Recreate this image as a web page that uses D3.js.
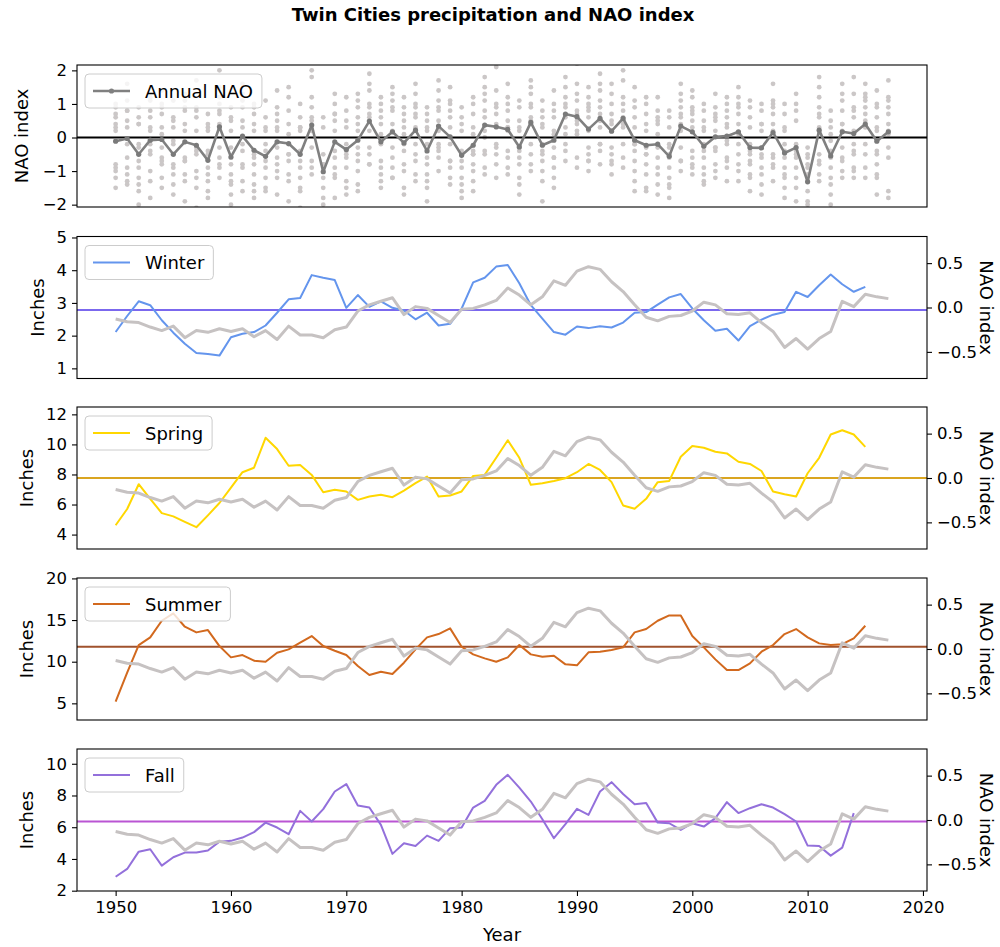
<!DOCTYPE html>
<html><head><meta charset="utf-8">
<script src="https://cdn.jsdelivr.net/npm/d3@7"></script>
<style>
body{margin:0;background:#fff}
text{font-family:"DejaVu Sans",sans-serif;fill:#000}
</style>
</head><body>
<svg id="chart" width="1000" height="947"></svg>
<script>
// ---- data ----
const years = d3.range(1950, 2018);          // NAO years
const seasonYears = d3.range(1950, 2016);    // precipitation years (fall ends 2014)

const annualNAO = [-0.11,-0.03,-0.50,-0.08,-0.06,-0.50,-0.13,-0.23,-0.68,0.32,
 -0.58,0.04,-0.38,-0.56,-0.13,-0.18,-0.50,0.37,-1.02,-0.13,
 -0.36,-0.08,0.49,-0.13,0.17,-0.16,0.22,-0.40,0.34,0.02,
 -0.53,-0.23,0.37,0.32,0.24,-0.28,0.45,-0.23,-0.08,0.70,
 0.62,0.25,0.57,0.19,0.57,-0.08,-0.23,-0.20,-0.56,0.34,
 0.17,-0.26,0.02,0.04,0.17,-0.30,-0.31,0.15,-0.46,-0.30,
 -1.32,0.22,-0.55,0.17,0.12,0.40,-0.11,0.17];

// monthly NAO index, Jan..Dec, one row per year
const monthlyNAO = [
 "0.6 -1.5 -1.0 0.3 -0.9 0.9 0.4 -1.2 1.0 0.2 -0.8 0.7",
 "-1.3 0.8 -0.6 1.6 -0.2 -1.1 0.5 0.3 -0.9 1.1 -1.4 0.8",
 "-1.4 -0.9 -2.0 0.4 -0.7 0.6 -1.6 -0.3 0.9 -1.2 -0.2 0.4",
 "0.8 -1.3 1.2 -0.5 0.2 -1.8 0.6 -0.4 1.1 -1.0 0.3 -0.2",
 "1.4 -0.8 0.3 -1.5 0.7 -0.3 1.0 -1.2 0.1 -0.6 0.9 -0.7",
 "-2.3 -1.1 0.5 -0.8 1.1 -1.4 -0.2 0.6 -1.7 0.3 -0.9 -0.1",
 "0.4 -1.9 1.3 -0.6 0.8 -1.1 0.2 0.9 -0.7 -1.3 1.1 -0.7",
 "1.7 -1.2 -2.1 0.6 -0.4 0.9 -1.0 0.2 -1.5 0.8 -0.3 -0.5",
 "-1.6 -2.2 -0.9 0.3 -1.3 0.7 -0.5 -1.1 0.4 -1.8 0.2 -0.4",
 "1.2 -0.6 2.0 0.4 -0.9 1.5 0.7 -0.3 1.0 -1.2 0.8 -0.8",
 "-1.4 -0.8 -2.0 0.6 -1.1 -0.3 0.9 -1.7 0.2 -0.6 -1.3 0.5",
 "0.9 -1.3 1.6 -0.4 0.3 -0.9 1.1 -1.6 0.5 -0.2 1.3 -0.8",
 "-1.8 0.4 -1.1 -0.5 1.0 -1.4 0.2 -0.8 0.7 -1.6 0.9 -0.6",
 "-2.4 -1.2 0.3 -0.7 1.1 -1.5 -0.4 0.6 -0.9 0.2 -1.6 -0.2",
 "0.5 -1.7 0.9 -0.3 -1.0 1.4 -0.6 0.2 -1.2 0.7 -0.8 0.3",
 "-1.9 0.8 -0.5 1.2 -1.3 0.1 -0.7 1.5 -1.1 0.4 -0.2 -0.5",
 "-1.5 -2.1 0.6 -0.9 0.2 -1.2 1.0 -0.4 -1.6 0.3 -0.7 0.3",
 "1.8 0.5 -0.7 1.2 -0.3 0.9 2.0 -1.1 0.6 0.2 -0.9 0.2",
 "-2.6 -1.5 -0.8 -2.0 0.3 -1.2 -0.5 -1.8 0.6 -1.0 -0.9 -0.8",
 "-1.1 0.7 -1.8 1.3 -0.4 0.2 -0.9 1.0 -0.6 0.5 -1.2 0.7",
 "-1.7 -0.4 0.8 -1.3 0.3 -0.9 1.2 -0.6 -1.5 0.5 -0.2 -0.5",
 "0.6 -1.4 1.1 -0.3 0.9 -1.6 0.4 -0.7 1.3 -0.5 0.2 -1.0",
 "1.9 0.6 -0.5 1.4 0.2 1.0 -0.8 0.7 1.6 -0.3 0.9 -0.8",
 "1.2 -0.9 0.4 -1.5 0.8 -0.2 -1.1 0.6 -0.7 1.0 -1.3 0.1",
 "1.5 -0.3 0.8 -1.2 1.1 0.4 -0.6 0.9 -0.9 0.2 1.3 -1.2",
 "0.9 -1.5 1.2 -0.4 -1.0 0.5 -0.8 0.3 -1.7 0.7 -0.2 0.1",
 "1.6 -0.7 0.9 1.3 -1.1 0.3 -0.2 1.0 -0.5 0.6 -1.3 0.7",
 "-1.3 -0.6 0.7 -1.9 -0.2 0.9 -1.1 0.3 -0.8 -1.5 0.5 0.2",
 "1.4 0.8 -0.6 1.7 -0.3 0.5 1.1 -1.0 0.2 0.9 -0.4 -0.2",
 "-1.2 1.0 0.3 -0.7 1.5 -0.9 0.6 -1.4 0.8 -0.2 1.1 -0.7",
 "-1.8 -0.9 0.4 -1.4 0.9 -0.5 -1.2 0.2 -0.7 -1.6 0.6 -0.4",
 "0.7 -1.6 -0.4 1.2 -1.0 0.3 -0.8 1.0 -1.3 0.1 -0.5 -0.5",
 "1.3 -0.5 1.8 0.2 -0.9 0.8 1.1 -0.4 0.6 -1.1 1.5 0.0",
 "2.1 0.4 -0.8 1.0 -0.3 0.7 -1.2 0.9 0.3 -0.5 1.4 -0.2",
 "1.2 1.6 -0.6 0.3 -1.1 0.8 0.2 -0.4 1.0 -0.9 0.5 0.3",
 "-1.7 -0.4 0.9 -1.2 0.5 -0.8 0.2 -1.4 1.1 -0.3 -0.6 0.3",
 "1.7 0.9 -0.5 1.3 0.4 -0.8 1.0 0.6 -0.2 1.5 -1.0 0.5",
 "-1.9 0.6 -0.7 1.1 -1.3 0.3 -0.5 0.8 -1.0 -0.2 0.4 -0.4",
 "0.8 1.4 -0.9 -0.3 0.6 -1.5 0.2 -0.6 1.0 -1.2 0.1 -0.6",
 "2.3 1.8 0.6 -0.4 1.2 0.3 0.9 -0.7 1.5 0.1 1.0 -0.2",
 "1.6 2.2 0.4 1.1 -0.6 0.8 0.2 1.3 -0.9 0.7 0.5 0.1",
 "0.9 1.5 -0.3 0.6 -1.0 1.2 0.2 -0.5 0.8 -0.7 1.0 -0.7",
 "1.4 0.7 1.9 -0.2 0.5 1.1 -0.8 0.9 0.3 1.6 -0.4 -0.2",
 "1.3 -0.5 0.4 1.0 -0.8 0.2 1.6 -1.1 0.7 -0.3 0.5 -0.7",
 "2.0 1.2 0.5 1.7 -0.6 0.8 -0.2 1.0 0.3 -0.9 0.6 0.4",
 "1.5 0.9 -1.3 0.3 -0.7 1.1 -0.2 -1.6 0.6 -0.4 -1.0 -0.2",
 "-1.6 0.7 -1.1 1.0 -0.3 0.4 -1.5 0.2 -0.8 1.2 -0.5 -0.5",
 "0.6 -1.4 1.2 -0.9 -0.3 0.8 -1.7 0.4 -0.6 0.1 -1.1 0.5",
 "-1.2 -0.5 0.6 -1.8 -0.9 0.3 -1.4 -0.2 0.8 -1.5 -0.6 -0.3",
 "1.1 0.4 1.6 -0.7 0.9 -0.3 0.6 1.3 -1.0 0.2 0.7 -0.7",
 "1.4 -0.6 0.9 -1.1 0.3 1.2 -0.4 0.7 -0.8 0.5 -0.9 0.8",
 "-0.9 0.5 -1.4 0.8 -0.2 -1.1 0.3 -0.6 1.0 -1.3 0.2 -0.4",
 "0.7 1.3 -0.8 0.2 -1.2 0.5 -0.4 0.9 -1.0 0.6 -0.3 -0.3",
 "-0.6 1.0 0.3 -1.3 0.8 -0.2 1.2 -0.7 0.4 -0.9 0.6 -0.1",
 "1.2 -0.5 0.7 1.5 -1.3 0.4 -0.2 0.9 -0.8 0.1 1.0 -1.0",
 "-1.1 0.9 -0.4 -1.6 0.3 -0.7 1.1 -0.5 -1.2 0.6 -0.2 -0.8",
 "-1.4 -0.6 1.0 -1.7 0.2 -0.3 0.8 -1.1 0.4 -0.9 -0.5 0.4",
 "1.1 0.4 -0.9 1.6 -0.5 0.7 -1.3 0.9 0.2 -0.6 1.0 -0.8",
 "0.7 -1.2 -0.4 -1.8 0.3 -0.9 -1.5 0.2 -0.6 1.0 -1.1 -0.2",
 "0.8 -0.4 -1.5 1.0 -0.9 -0.2 -1.9 0.5 -0.6 -1.2 1.3 -0.5",
 "-2.0 -2.6 -1.1 -0.3 -1.6 -0.8 -1.9 -0.5 -1.3 -0.9 -2.2 -0.6",
 "-1.3 1.5 0.6 1.8 -0.5 0.9 -1.1 0.3 1.2 -0.8 0.7 -0.7",
 "-0.4 -1.7 0.8 -1.2 -0.6 0.3 -2.0 -0.9 0.5 -1.4 0.1 -0.1",
 "1.1 -0.7 1.6 0.4 -1.2 0.8 -0.3 1.3 -0.6 0.2 -1.0 0.4",
 "1.8 1.3 -0.4 0.6 -0.9 0.2 -1.2 0.9 -0.5 -1.0 0.8 -0.2",
 "1.6 0.9 1.3 -0.5 0.7 -0.9 1.1 0.3 -0.2 0.5 1.2 -1.2",
 "1.4 0.6 -1.7 0.9 -0.4 -1.1 0.3 -0.8 1.0 -0.5 0.2 -1.2",
 "1.7 1.2 -0.6 0.4 -1.6 0.9 -0.3 0.7 -1.8 1.1 0.2 0.1"
];

// smoothed NAO index (right axis of the seasonal panels)
const naoSmooth = [-0.13,-0.16,-0.17,-0.22,-0.26,-0.21,-0.34,-0.26,-0.28,-0.24,
 -0.27,-0.24,-0.33,-0.26,-0.36,-0.21,-0.31,-0.31,-0.34,-0.25,
 -0.22,-0.04,0.03,0.07,0.11,-0.08,0.01,-0.01,-0.09,-0.17,
 -0.02,-0.01,0.03,0.08,0.22,0.14,0.03,0.12,0.30,0.25,
 0.41,0.46,0.43,0.29,0.18,0.03,-0.11,-0.15,-0.10,-0.09,
 -0.04,0.06,0.03,-0.07,-0.08,-0.06,-0.17,-0.27,-0.45,-0.35,
 -0.47,-0.35,-0.27,0.07,0.01,0.15,0.12,0.10];

// smoothed seasonal precipitation, inches
const winter = [2.11,2.60,3.05,2.93,2.47,2.09,1.75,1.47,1.44,1.39,
 1.95,2.06,2.11,2.31,2.70,3.11,3.15,3.85,3.77,3.70,
 2.85,3.24,2.88,3.05,2.85,2.77,2.50,2.70,2.31,2.36,
 2.83,3.63,3.77,4.11,4.16,3.60,2.93,2.52,2.11,2.03,
 2.28,2.23,2.29,2.25,2.40,2.70,2.72,2.95,3.17,3.27,
 2.83,2.47,2.15,2.21,1.85,2.29,2.49,2.64,2.72,3.34,
 3.18,3.54,3.87,3.57,3.34,3.49];
const spring = [4.62,5.70,7.35,6.38,5.43,5.21,4.84,4.49,5.28,6.10,
 7.13,8.15,8.45,10.44,9.69,8.58,8.63,7.97,6.82,6.98,
 6.87,6.31,6.53,6.65,6.49,6.93,7.42,7.86,6.53,6.60,
 6.87,7.90,7.97,9.11,10.28,9.11,7.31,7.42,7.57,7.75,
 8.15,8.70,8.30,7.49,5.94,5.72,6.38,7.49,7.57,9.18,
 9.89,9.78,9.51,9.40,8.85,8.70,8.23,6.87,6.69,6.53,
 8.08,9.11,10.66,10.94,10.66,9.84];
const summer = [5.20,8.68,12.00,12.92,14.92,15.80,14.20,13.52,13.80,11.88,
 10.52,10.80,10.12,10.00,11.08,11.48,12.28,13.08,11.88,11.32,
 10.80,9.48,8.40,8.80,8.52,9.88,11.48,12.92,13.32,14.00,
 11.80,10.88,10.40,10.00,10.52,12.00,10.88,10.60,10.72,9.68,
 9.56,11.12,11.20,11.40,11.72,13.52,13.92,14.92,15.56,15.56,
 13.08,11.72,10.28,9.00,9.00,9.80,11.20,12.00,13.32,13.92,
 12.92,12.20,12.00,12.10,12.80,14.32];
const fall = [2.88,3.37,4.46,4.61,3.58,4.11,4.40,4.40,4.53,5.09,
 5.14,5.35,5.69,6.29,5.98,5.56,7.03,6.36,7.14,8.25,
 8.72,7.37,7.24,6.15,4.32,4.99,4.82,5.47,5.14,5.94,
 5.98,7.24,7.66,8.67,9.30,8.50,7.62,6.50,5.31,6.19,
 7.16,6.78,8.25,8.84,8.09,7.45,7.52,6.29,6.25,5.83,
 6.25,6.04,6.57,7.58,6.89,7.20,7.45,7.24,6.82,6.36,
 4.84,4.82,4.21,4.71,6.89];

const seasonNames = ["Winter", "Spring", "Summer", "Fall"];
const seasonSeries = [winter, spring, summer, fall];
const seasonMeans = [2.78, 7.76, 11.80, 6.36];
const seasonColors = ["#6495ed", "#ffd700", "#d2691e", "#9370db"];
const meanColors = ["#7b68ee", "#daa520", "#a0522d", "#ba55d3"];

const xTicks = [1950, 1960, 1970, 1980, 1990, 2000, 2010, 2020];
const naoTicks = [-2, -1, 0, 1, 2];
const inchTicks = [[1, 2, 3, 4, 5], [4, 6, 8, 10, 12], [5, 10, 15, 20], [2, 4, 6, 8, 10]];
const rightTicks = [-0.5, 0, 0.5];

// ---- layout ----
const svg = d3.select("#chart");
const L = 77, R = 927;
const panelTop = [65, 236.5, 407, 578, 749];
const PH = 142;
const leftDomains = [[-2.07, 2.16], [0.69, 5.03], [3.04, 12.49], [3.0, 20.05], [1.98, 10.93]];
const ylabelX = [22, 38, 27, 27, 27];
const TICK_FS = "16.5px", LABEL_FS = "18px";
const GRAY = "#c6c2c2";

const x = d3.scaleLinear().domain([1946.65, 2020.35]).range([L, R]);
const minus = s => String(s).replace("-", "\u2212");

svg.append("text").attr("x", 493).attr("y", 21).attr("text-anchor", "middle")
  .style("font-size", "18px").style("font-weight", "bold")
  .text("Twin Cities precipitation and NAO index");

const defs = svg.append("defs");

function styleAxis(g) {
  g.select(".domain").remove();
  g.selectAll(".tick line").attr("stroke", "#000").attr("stroke-width", 1.1);
  g.selectAll(".tick text").style("font-size", TICK_FS).attr("fill", "#000")
    .style("font-family", '"DejaVu Sans",sans-serif');
}

function legend(g, top, label, color, withMarker) {
  const lg = g.append("g");
  const box = lg.append("rect").attr("x", 85).attr("y", top + 9).attr("height", 34)
    .attr("rx", 4).attr("fill", "#fff").attr("fill-opacity", 0.8)
    .attr("stroke", "#cccccc").attr("stroke-width", 1);
  const cy = top + 26;
  lg.append("line").attr("x1", 93).attr("x2", 130).attr("y1", cy).attr("y2", cy)
    .attr("stroke", color).attr("stroke-width", withMarker ? 2.6 : 2);
  if (withMarker) lg.append("circle").attr("cx", 111.5).attr("cy", cy).attr("r", 2.6).attr("fill", color);
  const t = lg.append("text").attr("x", 145).attr("y", cy + 6.5).style("font-size", LABEL_FS).text(label);
  box.attr("width", 60 + t.node().getComputedTextLength() + 9);
}

function panelFrame(i) {
  const top = panelTop[i], bottom = top + PH;
  const id = "clip" + i;
  defs.append("clipPath").attr("id", id).append("rect")
    .attr("x", L).attr("y", top).attr("width", R - L).attr("height", PH);
  const y = d3.scaleLinear().domain(leftDomains[i]).range([bottom, top]);
  const g = svg.append("g");
  const plot = g.append("g").attr("clip-path", `url(#${id})`);
  return {top, bottom, y, g, plot};
}

// ---- panel 1: NAO index ----
{
  const p = panelFrame(0);
  const dots = [];
  years.forEach((yr, i) => monthlyNAO[i].split(" ").forEach(v => dots.push([yr, +v])));
  p.plot.selectAll("circle.m").data(dots).join("circle").attr("class", "m")
    .attr("cx", d => x(d[0])).attr("cy", d => p.y(d[1])).attr("r", 2.4).attr("fill", "#cbc7c7");
  p.plot.append("line").attr("x1", L).attr("x2", R).attr("y1", p.y(0)).attr("y2", p.y(0))
    .attr("stroke", "#000").attr("stroke-width", 1.8);
  const line = d3.line().x((d, i) => x(years[i])).y(d => p.y(d));
  p.plot.append("path").datum(annualNAO).attr("d", line).attr("fill", "none")
    .attr("stroke", "#808080").attr("stroke-width", 2.6).attr("stroke-linejoin", "round");
  p.plot.selectAll("circle.a").data(annualNAO).join("circle").attr("class", "a")
    .attr("cx", (d, i) => x(years[i])).attr("cy", d => p.y(d)).attr("r", 2.6).attr("fill", "#7a7a7a");
  legend(p.g, p.top, "Annual NAO", "#808080", true);
  p.g.append("g").attr("transform", `translate(${L},0)`)
    .call(d3.axisLeft(p.y).tickValues(naoTicks).tickSize(5).tickPadding(5).tickFormat(minus)).call(styleAxis);
  p.g.append("rect").attr("x", L).attr("y", p.top).attr("width", R - L).attr("height", PH)
    .attr("fill", "none").attr("stroke", "#000").attr("stroke-width", 1.1);
  p.g.append("text").attr("transform", `translate(${ylabelX[0]},${p.top + PH / 2}) rotate(-90)`)
    .attr("text-anchor", "middle").attr("dy", "0.35em").style("font-size", LABEL_FS).text("NAO index");
}

// ---- seasonal panels ----
seasonNames.forEach((name, s) => {
  const i = s + 1;
  const p = panelFrame(i);
  const yr = d3.scaleLinear().domain([-0.8, 0.8]).range([p.bottom, p.top]);
  const vals = seasonSeries[s];
  p.plot.append("line").attr("x1", L).attr("x2", R)
    .attr("y1", p.y(seasonMeans[s])).attr("y2", p.y(seasonMeans[s]))
    .attr("stroke", meanColors[s]).attr("stroke-width", 2);
  p.plot.append("path").datum(vals)
    .attr("d", d3.line().x((d, k) => x(seasonYears[k])).y(d => p.y(d)))
    .attr("fill", "none").attr("stroke", seasonColors[s]).attr("stroke-width", 2)
    .attr("stroke-linejoin", "round");
  legend(p.g, p.top, name, seasonColors[s], false);
  p.plot.append("path").datum(naoSmooth)
    .attr("d", d3.line().x((d, k) => x(years[k])).y(d => yr(d)))
    .attr("fill", "none").attr("stroke", GRAY).attr("stroke-width", 3)
    .attr("stroke-linejoin", "round");

  p.g.append("g").attr("transform", `translate(${L},0)`)
    .call(d3.axisLeft(p.y).tickValues(inchTicks[s]).tickSize(5).tickPadding(5).tickFormat(d3.format("d")))
    .call(styleAxis);
  p.g.append("g").attr("transform", `translate(${R},0)`)
    .call(d3.axisRight(yr).tickValues(rightTicks).tickSize(5).tickPadding(5)
      .tickFormat(d => minus(d3.format(".1f")(d)))).call(styleAxis);
  p.g.append("rect").attr("x", L).attr("y", p.top).attr("width", R - L).attr("height", PH)
    .attr("fill", "none").attr("stroke", "#000").attr("stroke-width", 1.1);
  p.g.append("text").attr("transform", `translate(${ylabelX[i]},${p.top + PH / 2}) rotate(-90)`)
    .attr("text-anchor", "middle").attr("dy", "0.35em").style("font-size", LABEL_FS).text("Inches");
  p.g.append("text").attr("transform", `translate(986,${p.top + PH / 2}) rotate(90)`)
    .attr("text-anchor", "middle").attr("dy", "0.35em").style("font-size", LABEL_FS).text("NAO index");

  if (s === 3) {
    p.g.append("g").attr("transform", `translate(0,${p.bottom})`)
      .call(d3.axisBottom(x).tickValues(xTicks).tickSize(5).tickPadding(5).tickFormat(d3.format("d")))
      .call(styleAxis);
    p.g.append("text").attr("x", (L + R) / 2).attr("y", 941).attr("text-anchor", "middle")
      .style("font-size", LABEL_FS).text("Year");
  }
});
</script>
</body></html>
